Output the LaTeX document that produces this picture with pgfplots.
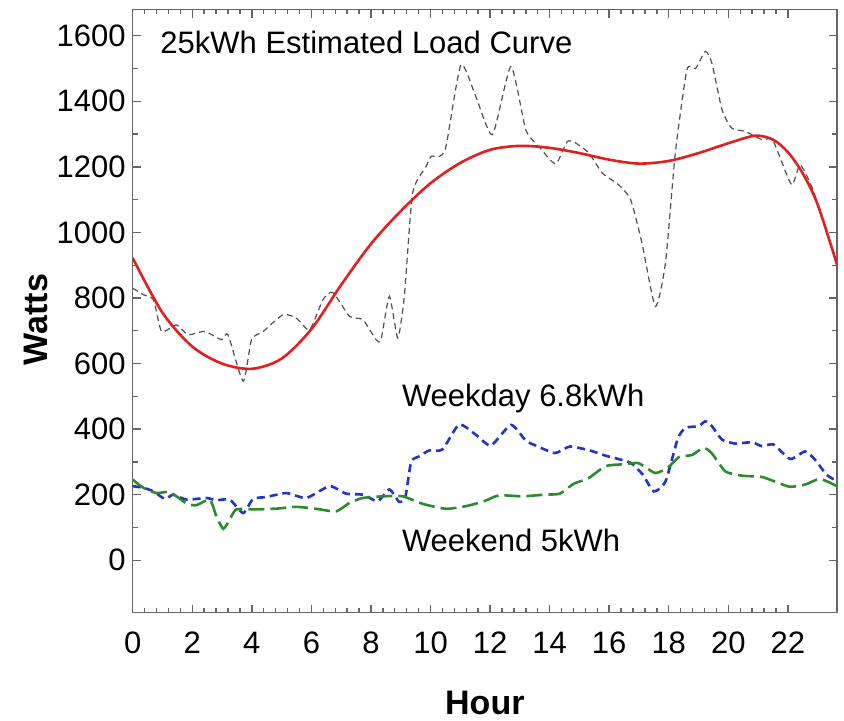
\documentclass[border=0pt]{standalone}
\usepackage{fontspec}
\setmainfont{Liberation Sans}
\usepackage{pgfplots}
\pgfplotsset{compat=1.18}
\definecolor{curvered}{HTML}{E21F1F}
\definecolor{daygreen}{HTML}{2C8C2C}
\definecolor{dayblue}{HTML}{2233C8}
\definecolor{rawgray}{HTML}{505050}
\definecolor{axgray}{HTML}{666666}
\begin{document}
\begin{tikzpicture}
\begin{axis}[
  width=352.15pt, height=301.6pt, scale only axis,
  xmin=0, xmax=23.65, ymin=-160, ymax=1680,
  xtick={0,2,...,22}, minor x tick num=4,
  ytick={0,200,...,1600}, minor y tick num=1,
  tick align=inside, major tick length=4pt, minor tick length=2.4pt,
  axis line style={draw=axgray,line width=0.75pt},
  every tick/.style={draw=axgray,line width=0.7pt},
  /pgf/number format/assume math mode=true,
  /pgf/number format/set thousands separator={},
  ticklabel style={font=\fontsize{15.5}{18}\selectfont},
  xticklabel style={yshift=-6pt},
  xlabel={Hour}, ylabel={Watts},
  label style={font=\fontsize{17}{20}\selectfont\bfseries},
  xlabel style={at={(rel axis cs:0.5,0)},anchor=center,yshift=-45pt},
  ylabel style={at={(rel axis cs:-0.1375,0.486)},anchor=center},
]
% measured load (gray dashed)
\addplot[rawgray,line width=0.6pt,dash pattern=on 3pt off 2pt,smooth,tension=0.35] coordinates {
 (0,830)(0.36,810)(0.7,794)(0.97,698)(1.47,718)(1.86,688)(2.42,698)(2.98,673)(3.2,688)
 (3.71,546)(3.99,673)(4.38,698)(5.05,749)(5.49,739)(5.94,703)(6.39,795)(6.72,817)
 (7.28,744)(7.73,734)(8.17,673)(8.34,673)(8.62,805)(8.9,678)(9.12,805)(9.4,1120)
 (9.85,1201)(10.02,1232)(10.3,1232)(10.52,1262)(11.02,1511)(11.52,1415)(12.08,1298)
 (12.7,1506)(13.2,1313)(13.64,1262)(14.2,1209)(14.59,1277)(14.87,1273)(15.32,1242)
 (15.77,1181)(16.32,1145)(16.72,1100)(17.1,968)(17.55,774)(17.89,907)(18.22,1242)
 (18.61,1496)(18.9,1500)(19.23,1552)(19.45,1516)(19.79,1374)(20.12,1318)(20.57,1308)
 (21.13,1283)(21.46,1286)(21.68,1242)(22.13,1145)(22.41,1206)(22.8,1140)(23.25,1018)(23.65,900)};
% weekday (blue dashed)
\addplot[dayblue,line width=1.3pt,dash pattern=on 4pt off 2.5pt,smooth,tension=0.35] coordinates {
 (0,226)(0.36,221)(0.7,210)(1.08,187)(1.36,200)(1.81,185)(2.48,190)(2.8,183)(3.26,185)
 (3.71,144)(4.04,187)(4.49,193)(5.16,205)(5.83,190)(6.61,226)(7.17,203)(7.73,200)
 (8.23,180)(8.62,216)(8.95,178)(9.15,190)(9.35,300)(9.62,317)(9.96,335)(10.4,338)
 (10.96,414)(11.52,383)(12.03,350)(12.7,413)(13.2,365)(13.53,350)(14.18,327)(14.68,347)
 (15.35,335)(15.88,319)(16.7,298)(17.12,262)(17.5,210)(17.89,240)(18.3,370)(18.56,404)
 (19.0,409)(19.23,424)(19.45,409)(19.79,368)(20.23,356)(20.79,360)(21.13,348)(21.52,353)
 (22.08,309)(22.58,332)(22.91,307)(23.3,261)(23.65,241)};
% weekend (green long dashed)
\addplot[daygreen,line width=1.3pt,dash pattern=on 8pt off 3pt,smooth,tension=0.35] coordinates {
 (0,246)(0.36,221)(0.8,205)(1.25,208)(1.81,173)(2.14,168)(2.59,185)(2.81,134)(3.04,96)
 (3.26,124)(3.48,155)(4.15,155)(4.9,158)(5.49,163)(6.16,157)(6.83,149)(7.28,175)(7.73,190)
 (8.4,195)(9.07,195)(9.74,172)(10.52,157)(11.19,165)(11.8,180)(12.3,198)(13.09,195)
 (13.8,200)(14.34,203)(14.8,233)(15.3,250)(15.88,287)(16.5,293)(16.95,297)(17.2,285)
 (17.55,266)(17.95,281)(18.35,315)(18.78,321)(19.17,343)(19.45,326)(19.9,271)(20.46,258)
 (21.13,254)(21.68,236)(22.08,224)(22.58,231)(23.08,248)(23.65,226)};
% estimated load curve (red)
\addplot[curvered,line width=1.3pt,smooth] coordinates {
 (0,922)(1,755)(2,652)(3,600)(4,584)(5,615)(6,705)(7,840)(8,965)(9,1065)
 (10,1150)(11,1212)(12,1252)(13,1264)(14,1258)(15,1242)(16,1222)(17,1210)(18,1218)
 (19,1242)(20,1272)(20.9,1295)(21.5,1283)(22,1245)(22.5,1180)(23,1085)(23.65,902)};
\node[anchor=base west,inner sep=0pt,font=\fontsize{15.5}{18}\selectfont] at (axis cs:0.92,1547) {25kWh Estimated Load Curve};
\node[anchor=base west,inner sep=0pt,font=\fontsize{15.5}{18}\selectfont] at (axis cs:9.03,470) {Weekday 6.8kWh};
\node[anchor=base west,inner sep=0pt,font=\fontsize{15.5}{18}\selectfont] at (axis cs:9.03,27) {Weekend 5kWh};
\end{axis}
\pgfresetboundingbox
\path[use as bounding box] (current axis.south west) ++(-66.35pt,-53.65pt) rectangle ++(422pt,360pt);
\end{tikzpicture}
\end{document}
